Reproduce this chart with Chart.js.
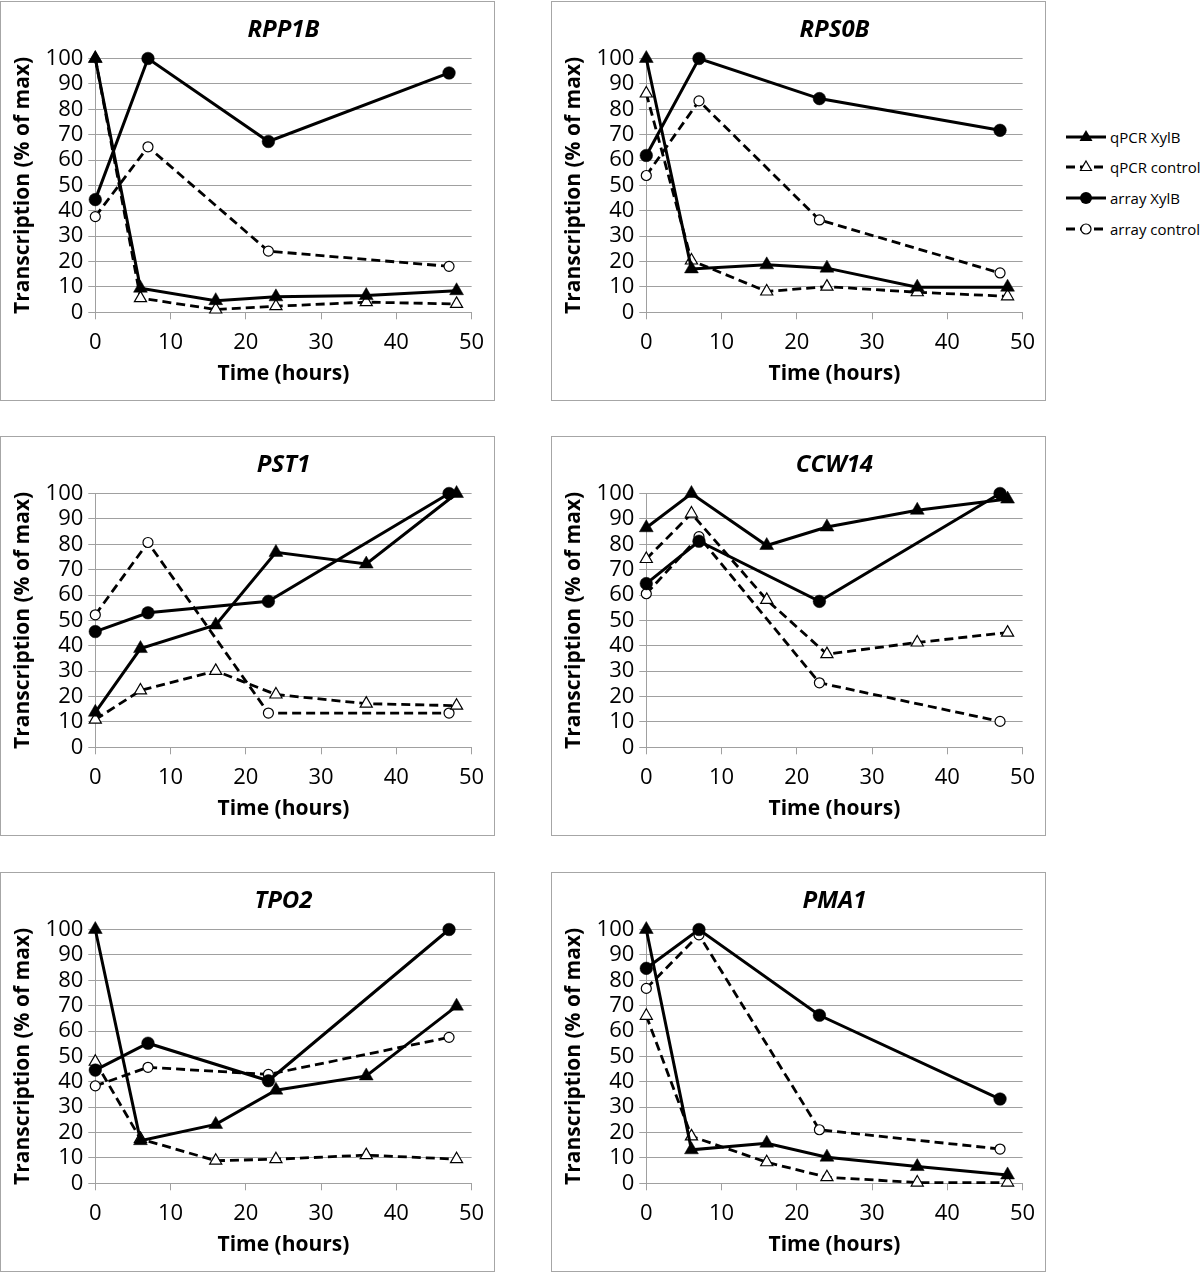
<!DOCTYPE html>
<html>
<head>
<meta charset="utf-8">
<script src="https://cdn.jsdelivr.net/npm/chart.js@4.4.1/dist/chart.umd.min.js"></script>
<style>
html,body{margin:0;padding:0;background:#fff;}
body{width:1200px;height:1272px;position:relative;overflow:hidden;font-family:"Open Sans",sans-serif;}
.panel{position:absolute;box-sizing:border-box;border:1px solid #a6a6a6;width:495px;height:400px;background:#fff;}
.panel canvas{display:block;}
.legend{position:absolute;left:1065px;top:0;width:135px;height:300px;overflow:hidden;}
.item{position:absolute;left:0;height:24px;white-space:nowrap;display:flex;align-items:center;font-size:15px;color:#000;}
.item svg{flex:none;margin-right:3px;}
</style>
</head>
<body>
<div class="panel" style="left:0px;top:1px;"><canvas id="c0" width="493" height="398"></canvas></div>
<div class="panel" style="left:551px;top:1px;"><canvas id="c1" width="493" height="398"></canvas></div>
<div class="panel" style="left:0px;top:436px;"><canvas id="c2" width="493" height="398"></canvas></div>
<div class="panel" style="left:551px;top:436px;"><canvas id="c3" width="493" height="398"></canvas></div>
<div class="panel" style="left:0px;top:872px;"><canvas id="c4" width="493" height="398"></canvas></div>
<div class="panel" style="left:551px;top:872px;"><canvas id="c5" width="493" height="398"></canvas></div>

<div class="legend">
  <div class="item" style="top:125px;"><svg width="42" height="20"><line x1="1" y1="10" x2="41" y2="10" stroke="#000" stroke-width="3"/><polygon points="21,3 27.5,14 14.5,14" fill="#000"/></svg><span>qPCR XylB</span></div>
  <div class="item" style="top:155px;"><svg width="42" height="20"><line x1="1" y1="10" x2="41" y2="10" stroke="#000" stroke-width="2.8" stroke-dasharray="9,5"/><polygon points="21,4 26.5,13.5 15.5,13.5" fill="#fff" stroke="#000" stroke-width="1.2"/></svg><span>qPCR control</span></div>
  <div class="item" style="top:186px;"><svg width="42" height="20"><line x1="1" y1="10" x2="41" y2="10" stroke="#000" stroke-width="3"/><circle cx="21" cy="10" r="6" fill="#000"/></svg><span>array XylB</span></div>
  <div class="item" style="top:217px;"><svg width="42" height="20"><line x1="1" y1="10" x2="41" y2="10" stroke="#000" stroke-width="2.8" stroke-dasharray="9,5"/><circle cx="21" cy="10" r="5" fill="#fff" stroke="#000" stroke-width="1.2"/></svg><span>array control</span></div>
</div>

<script>
// ---------- data ----------
const genes = ["RPP1B", "RPS0B", "PST1", "CCW14", "TPO2", "PMA1"];
const seriesNames = ["qPCR XylB", "qPCR control", "array XylB", "array control"];
const qpcrTimes = [0, 6, 16, 24, 36, 48];
const arrayTimes = [0, 7, 23, 47];
const xTickValues = [0, 10, 20, 30, 40, 50];
const yTickValues = [0, 10, 20, 30, 40, 50, 60, 70, 80, 90, 100];

const rpp1bQpcrXylB    = [100, 9.5, 4.6, 6.1, 6.6, 8.5];
const rpp1bQpcrControl = [100, 5.6, 1.1, 2.4, 4.0, 3.3];
const rpp1bArrayXylB   = [44.4, 100, 67.3, 94.3];
const rpp1bArrayControl= [37.7, 65.2, 24.1, 18.1];

const rps0bQpcrXylB    = [100, 17.1, 18.7, 17.4, 9.9, 9.9];
const rps0bQpcrControl = [86.2, 20.4, 8.2, 10.1, 7.9, 6.3];
const rps0bArrayXylB   = [61.8, 100, 84.2, 71.7];
const rps0bArrayControl= [53.9, 83.3, 36.4, 15.5];

const pst1QpcrXylB     = [13.8, 38.9, 48.2, 76.8, 72.2, 100];
const pst1QpcrControl  = [10.9, 22.4, 30.1, 20.8, 17.2, 16.4];
const pst1ArrayXylB    = [45.6, 53.0, 57.5, 100];
const pst1ArrayControl = [52.2, 80.7, 13.5, 13.5];

const ccw14QpcrXylB    = [86.5, 100, 79.5, 86.8, 93.4, 97.8];
const ccw14QpcrControl = [74.2, 92.1, 58.1, 36.7, 41.3, 45.2];
const ccw14ArrayXylB   = [64.5, 81.2, 57.5, 100];
const ccw14ArrayControl= [60.5, 83.0, 25.4, 10.2];

const tpo2QpcrXylB     = [100, 16.8, 23.2, 36.7, 42.3, 69.8];
const tpo2QpcrControl  = [47.9, 17.5, 8.9, 9.5, 11.1, 9.5];
const tpo2ArrayXylB    = [44.6, 55.2, 40.4, 100];
const tpo2ArrayControl = [38.4, 45.7, 42.9, 57.5];

const pma1QpcrXylB     = [100, 13.2, 15.8, 10.3, 6.6, 3.3];
const pma1QpcrControl  = [66.0, 18.5, 8.3, 2.4, 0.3, 0.3];
const pma1ArrayXylB    = [84.7, 100, 66.2, 33.2];
const pma1ArrayControl = [76.8, 97.9, 21.1, 13.5];

const panelSeries = [
  [rpp1bQpcrXylB, rpp1bQpcrControl, rpp1bArrayXylB, rpp1bArrayControl],
  [rps0bQpcrXylB, rps0bQpcrControl, rps0bArrayXylB, rps0bArrayControl],
  [pst1QpcrXylB, pst1QpcrControl, pst1ArrayXylB, pst1ArrayControl],
  [ccw14QpcrXylB, ccw14QpcrControl, ccw14ArrayXylB, ccw14ArrayControl],
  [tpo2QpcrXylB, tpo2QpcrControl, tpo2ArrayXylB, tpo2ArrayControl],
  [pma1QpcrXylB, pma1QpcrControl, pma1ArrayXylB, pma1ArrayControl]
];

// ---------- styling ----------
const FONT = "'Open Sans', sans-serif";
const GRID = '#a0a0a0';
const DASH = [9, 5];

function pts(times, vals) { return times.map((t, i) => ({x: t, y: vals[i]})); }

function makeChart(idx) {
  const s = panelSeries[idx];
  const ctx = document.getElementById('c' + idx);
  return new Chart(ctx, {
    type: 'line',
    data: {
      datasets: [
        {label: seriesNames[0], data: pts(qpcrTimes, s[0]), borderColor: '#000', borderWidth: 3,
         pointStyle: 'triangle', pointRadius: 8, pointBackgroundColor: '#000', pointBorderColor: '#000',
         pointBorderWidth: 0.5, order: 0, clip: false, tension: 0},
        {label: seriesNames[1], data: pts(qpcrTimes, s[1]), borderColor: '#000', borderWidth: 2.8, borderDash: DASH,
         pointStyle: 'triangle', pointRadius: 7, pointBackgroundColor: '#fff', pointBorderColor: '#000',
         pointBorderWidth: 1.2, order: 2, clip: false, tension: 0},
        {label: seriesNames[2], data: pts(arrayTimes, s[2]), borderColor: '#000', borderWidth: 3,
         pointStyle: 'circle', pointRadius: 6.3, pointBackgroundColor: '#000', pointBorderColor: '#000',
         pointBorderWidth: 0.5, order: 1, clip: false, tension: 0},
        {label: seriesNames[3], data: pts(arrayTimes, s[3]), borderColor: '#000', borderWidth: 2.8, borderDash: DASH,
         pointStyle: 'circle', pointRadius: 5, pointBackgroundColor: '#fff', pointBorderColor: '#000',
         pointBorderWidth: 1.2, order: 3, clip: false, tension: 0}
      ]
    },
    options: {
      responsive: false,
      animation: false,
      events: [],
      layout: {padding: {left: 0, right: 13.5, top: 0, bottom: 0}},
      plugins: {
        legend: {display: false},
        tooltip: {enabled: false},
        title: {display: true, text: genes[idx], fullSize: false, color: '#000',
                font: {family: FONT, size: 24, weight: 'bold', style: 'italic', lineHeight: 1.2},
                padding: {top: 13.6, bottom: 14.1}}
      },
      scales: {
        x: {
          type: 'linear', min: xTickValues[0], max: xTickValues[xTickValues.length - 1],
          afterBuildTicks: sc => { sc.ticks = xTickValues.map(v => ({value: v})); },
          ticks: {color: '#000', font: {family: FONT, size: 22}, padding: 9.8, maxRotation: 0, autoSkip: false},
          grid: {display: true, drawOnChartArea: false, drawTicks: true, tickLength: 7, color: GRID, lineWidth: 1},
          border: {display: true, color: GRID, width: 1},
          title: {display: true, text: 'Time (hours)', color: '#000',
                  font: {family: FONT, size: 21, weight: 'bold', lineHeight: 1.2}, padding: {top: 0, bottom: 13.4}},
          afterFit: sc => { sc.height = 87.7; }
        },
        y: {
          type: 'linear', min: yTickValues[0], max: yTickValues[yTickValues.length - 1],
          afterBuildTicks: sc => { sc.ticks = yTickValues.map(v => ({value: v})); },
          ticks: {color: '#000', font: {family: FONT, size: 22}, padding: 5, autoSkip: false},
          grid: {display: true, drawOnChartArea: true, drawTicks: true, tickLength: 7, color: GRID, lineWidth: 1},
          border: {display: true, color: GRID, width: 1},
          title: {display: true, text: 'Transcription (% of max)', color: '#000',
                  font: {family: FONT, size: 21, weight: 'bold', lineHeight: 1.2}, padding: {top: 9.4, bottom: 0}},
          afterFit: sc => { sc.width = 94.3; }
        }
      }
    }
  });
}

for (let i = 0; i < genes.length; i++) makeChart(i);
</script>
</body>
</html>
